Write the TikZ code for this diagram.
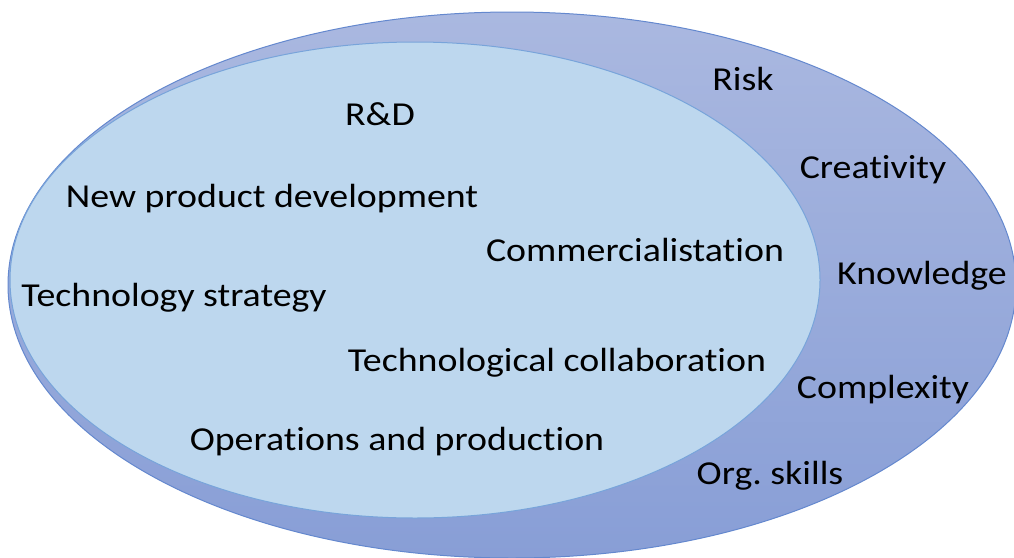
\documentclass[tikz,border=0pt]{standalone}
\usepackage{fontspec}
\setmainfont{Carlito}[FakeStretch=1.13, Ligatures={NoCommon}]
\definecolor{outtop}{RGB}{170,184,224}
\definecolor{outbot}{RGB}{136,158,214}
\definecolor{outline}{RGB}{100,136,206}
\definecolor{infill}{RGB}{189,215,238}
\definecolor{inline}{RGB}{120,164,218}
\tikzset{lbl/.style={anchor=base, inner sep=0pt, font=\fontsize{33.5pt}{40pt}\selectfont}}
\begin{document}
\begin{tikzpicture}[x=1pt,y=-1pt, line join=round, line cap=round]
		\def\ox{512} \def\oy{285} \def\oa{504} \def\ob{273} % outer
		\def\ix{415} \def\iy{280} \def\ia{405} \def\ib{238} % inner
		\useasboundingbox (0,0) rectangle (1014,557);
		\shade[top color=outtop, bottom color=outbot] (\ox,\oy) ellipse [x radius=\oa, y radius=\ob];
		\draw[outline, line width=1pt] (\ox,\oy) ellipse [x radius=\oa, y radius=\ob];
		\draw[inline, fill=infill, line width=1pt] (\ix,\iy) ellipse [x radius=\ia, y radius=\ib];
		% inner ring
		\node[lbl] (rd) at (380,125) {R\&D};
		\node[lbl] (npd) at (272,207.5) {New product development};
		\node[lbl] (comm) at (635,261) {Commercialistation};
		\node[lbl] (tstrat) at (174,306) {Technology strategy};
		\node[lbl] (tcollab) at (557,371) {Technological collaboration};
		\node[lbl] (ops) at (397,450) {Operations and production};
		% outer ring
		\node[lbl] (risk) at (743,90) {Risk};
		\node[lbl] (creat) at (873,178) {Creativity};
		\node[lbl] (know) at (922,284) {Knowledge};
		\node[lbl] (cplx) at (883,398) {Complexity};
		\node[lbl] (org) at (770,484) {Org.\ skills};
	\end{tikzpicture}
\end{document}
